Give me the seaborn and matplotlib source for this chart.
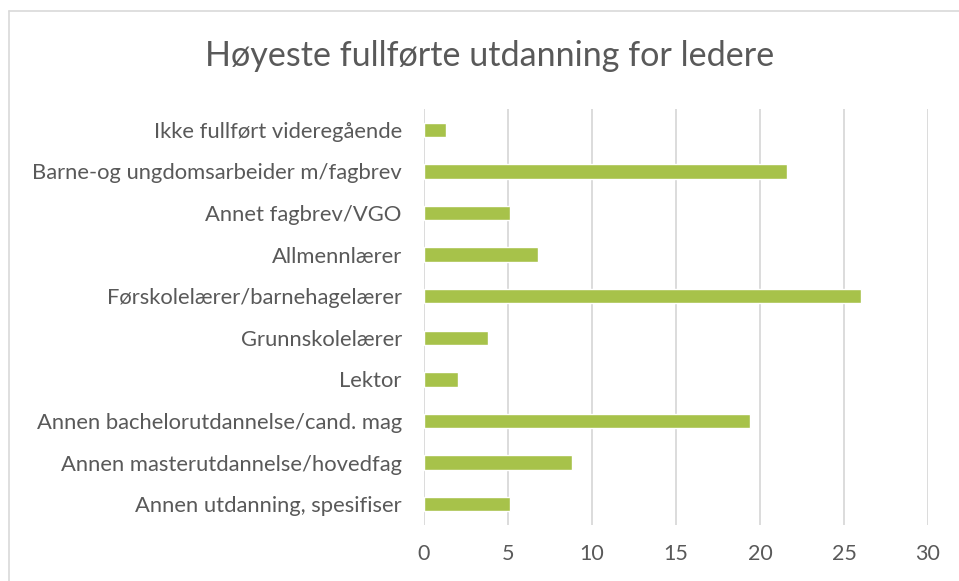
import numpy as np
import pandas as pd
import matplotlib
matplotlib.use("Agg")
import matplotlib.pyplot as plt
from matplotlib.lines import Line2D
import seaborn as sns

# Data
categories = [
    "Ikke fullført videregående",
    "Barne-og ungdomsarbeider m/fagbrev",
    "Annet fagbrev/VGO",
    "Allmennlærer",
    "Førskolelærer/barnehagelærer",
    "Grunnskolelærer",
    "Lektor",
    "Annen bachelorutdannelse/cand. mag",
    "Annen masterutdannelse/hovedfag",
    "Annen utdanning, spesifiser",
]
values = [1.3, 21.6, 5.1, 6.8, 26.0, 3.8, 2.0, 19.4, 8.8, 5.1]
x_ticks = [0, 5, 10, 15, 20, 25, 30]

title = "Høyeste fullførte utdanning for ledere"
bar_color = "#A7C24A"
text_color = "#595959"
grid_color = "#D9D9D9"

df = pd.DataFrame({"utdanning": categories, "andel": values})

sns.set_theme(style="white")
plt.rcParams["font.family"] = ["Lato", "DejaVu Sans"]

fig = plt.figure(figsize=(9.59, 5.81), dpi=100)
ax = fig.add_axes([424 / 959, 1 - 525 / 581, (928 - 424) / 959, (525 - 109) / 581])

sns.barplot(data=df, x="andel", y="utdanning", color=bar_color,
            width=0.35, saturation=1, ax=ax, orient="h")

ax.set_xlim(0, 30)
ax.set_xticks(x_ticks)
ax.set_xticklabels([str(t) for t in x_ticks])
ax.set_xlabel("")
ax.set_ylabel("")
ax.xaxis.grid(True, color=grid_color, linewidth=1.3)
ax.set_axisbelow(True)
for s in ax.spines.values():
    s.set_visible(False)
ax.tick_params(axis="x", length=0, pad=14, labelsize=15.5, labelcolor=text_color)
ax.tick_params(axis="y", length=0, pad=16, labelsize=15.8, labelcolor=text_color)

fig.text(490 / 959, 1 - 56 / 581, title, ha="center", va="center",
         fontsize=24.6, color=text_color)

# chart area border (left and top visible)
fig.add_artist(Line2D([9 / 959, 9 / 959], [0, 1 - 11 / 581], color=grid_color,
                      linewidth=1.2, transform=fig.transFigure))
fig.add_artist(Line2D([9 / 959, 1], [1 - 11 / 581, 1 - 11 / 581], color=grid_color,
                      linewidth=1.2, transform=fig.transFigure))

fig.savefig("out.png", dpi=100)
